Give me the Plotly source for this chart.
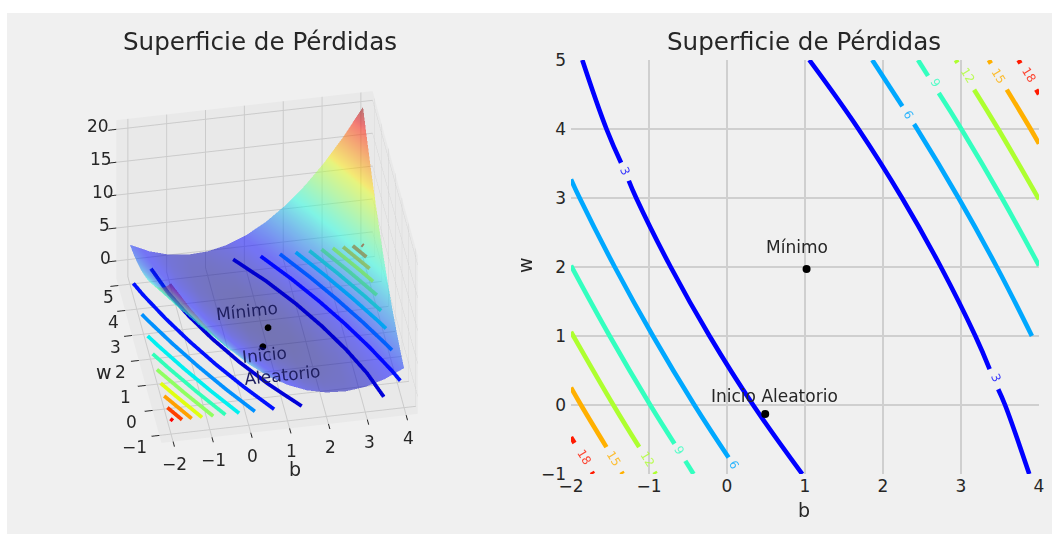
import plotly.graph_objects as go

TITLE = "Superficie de Pérdidas"
b_ticks = [-2, -1, 0, 1, 2, 3, 4]
w_ticks = [-1, 0, 1, 2, 3, 4, 5]
z_ticks = [0, 5, 10, 15, 20]

b_grid = [-2, -1.5, -1, -0.5, 0, 0.5, 1, 1.5, 2, 2.5, 3, 3.5, 4]
w_grid = [-1, -0.5, 0, 0.5, 1, 1.5, 2, 2.5, 3, 3.5, 4, 4.5, 5]
loss_grid = [
    [20.33, 16.17, 12.51, 9.35, 6.69, 4.53, 2.87, 1.71, 1.05, 0.89, 1.23, 2.07, 3.41],
    [18.04, 14.12, 10.69, 7.77, 5.34, 3.42, 1.99, 1.07, 0.64, 0.72, 1.29, 2.37, 3.94],
    [15.91, 12.22, 9.04, 6.35, 4.16, 2.47, 1.28, 0.59, 0.40, 0.71, 1.52, 2.83, 4.64],
    [13.95, 10.49, 7.54, 5.08, 3.13, 1.67, 0.72, 0.26, 0.31, 0.85, 1.90, 3.44, 5.49],
    [12.14, 8.92, 6.20, 3.98, 2.26, 1.04, 0.32, 0.10, 0.38, 1.16, 2.44, 4.22, 6.50],
    [10.49, 7.50, 5.02, 3.03, 1.55, 0.56, 0.08, 0.09, 0.61, 1.62, 3.14, 5.15, 7.67],
    [9.00, 6.25, 4.00, 2.25, 1.00, 0.25, 0.00, 0.25, 1.00, 2.25, 4.00, 6.25, 9.00],
    [7.67, 5.15, 3.14, 1.62, 0.61, 0.09, 0.08, 0.56, 1.55, 3.03, 5.02, 7.50, 10.49],
    [6.50, 4.22, 2.44, 1.16, 0.38, 0.10, 0.32, 1.04, 2.26, 3.98, 6.20, 8.92, 12.14],
    [5.49, 3.44, 1.90, 0.85, 0.31, 0.26, 0.72, 1.67, 3.13, 5.08, 7.54, 10.49, 13.95],
    [4.64, 2.83, 1.52, 0.71, 0.40, 0.59, 1.28, 2.47, 4.16, 6.35, 9.04, 12.22, 15.91],
    [3.94, 2.37, 1.29, 0.72, 0.64, 1.07, 1.99, 3.42, 5.34, 7.77, 10.69, 14.12, 18.04],
    [3.41, 2.07, 1.23, 0.89, 1.05, 1.71, 2.87, 4.53, 6.69, 9.35, 12.51, 16.17, 20.33],
]

# floor contours of the 3D panel: level -> (b, w) polylines, None separates branches
floor_levels = [2, 4, 6, 8, 10, 12, 14, 16, 18, 20]
floor_colors = ["#0000d8", "#0010ff", "#0090ff", "#00f0f0", "#30ffb8", "#90ff60",
                "#e0ff10", "#ffa000", "#ff4000", "#ff0000"]
floor_z = -0.6
floor_b = [
    [3.477, 3.218, 2.859, 2.424, 1.919, 1.338, 0.657, None, 1.363, 0.682, 0.101, -0.404, -0.839, -1.198, -1.457],
    [4.0, 3.849, 3.455, 3.01, 2.515, 1.969, 1.366, None, 0.654, 0.051, -0.495, -0.99, -1.435, -1.829, -2.0],
    [4.0, 3.909, 3.459, 2.969, 2.438, 1.862, None, 0.158, -0.418, -0.949, -1.439, -1.889, -2.0],
    [4.0, 3.838, 3.351, 2.828, 2.268, None, -0.248, -0.808, -1.331, -1.818, -2.0],
    [4.0, 3.687, 3.17, 2.62, None, -0.60, -1.15, -1.667, -2.0],
    [4.0, 3.477, 2.934, None, -0.914, -1.457, -1.97, -2.0],
    [4.0, 3.759, 3.222, None, -1.202, -1.739, -2.0],
    [4.0, 3.488, None, -1.468, -2.0],
    [4.0, 3.737, None, -1.717, -2.0],
    [4.0, 3.972, None, -1.952, -2.0],
]
floor_w = [
    [-1, 0, 1, 2, 3, 4, 5, None, -1, 0, 1, 2, 3, 4, 5],
    [-0.448, 0, 1, 2, 3, 4, 5, None, -1, 0, 1, 2, 3, 4, 4.507],
    [0.778, 1, 2, 3, 4, 5, None, -1, 0, 1, 2, 3, 3.271],
    [1.642, 2, 3, 4, 5, None, -1, 0, 1, 2, 2.402],
    [2.355, 3, 4, 5, None, -1, 0, 1, 1.687],
    [2.98, 4, 5, None, -1, 0, 1, 1.06],
    [3.527, 4, 5, None, -1, 0, 0.51],
    [4.04, 5, None, -1, 0],
    [4.503, 5, None, -1, -0.465],
    [4.947, 5, None, -1, -0.91],
]

# contours of the flat panel, broken where the labels sit
flat_levels = [3, 6, 9, 12, 15, 18]
flat_colors = ["#0000ff", "#00a8ff", "#33ffbf", "#adff2f", "#ffb000", "#ff1a00"]
flat_b = [
    [3.875, 3.565, 3.477, None, 3.367, 3.184, 2.742, 2.244, 1.685, 1.055, None,
     0.965, 0.335, -0.224, -0.722, -1.164, -1.259, None, -1.358, -1.545, -1.855],
    [3.909, 3.459, 2.969, 2.438, 2.398, None, 2.248, 1.862, None,
     0.02, -0.418, -0.949, -1.439, -1.889, -2.0],
    [4.0, 3.524, 3.004, 2.715, None, 2.577, 2.449, None,
     -0.429, -0.534, None, -0.673, -0.984, -1.504, -2.0],
    [4.0, 3.477, 3.168, None, 2.955, 2.934, None,
     -0.914, -0.93, None, -1.126, -1.457, -1.97, -2.0],
    [4.0, 3.892, 3.587, None, 3.384, 3.357, None,
     -1.337, -1.353, None, -1.546, -1.872, -2.0],
    [4.0, 3.964, None, 3.763, 3.737, None, -1.717, -1.733, None, -1.955, -2.0],
]
flat_w = [
    [-1, 0, 0.23, None, 0.52, 1, 2, 3, 4, 5, None,
     -1, 0, 1, 2, 3, 3.25, None, 3.51, 4, 5],
    [1, 2, 3, 4, 4.07, None, 4.33, 5, None,
     -0.76, 0, 1, 2, 3, 3.271],
    [2.02, 3, 4, 4.52, None, 4.77, 5, None,
     -1, -0.81, None, -0.56, 0, 1, 2.02],
    [2.98, 4, 4.57, None, 4.96, 5, None,
     -1, -0.97, None, -0.61, 0, 1, 1.06],
    [3.787, 4, 4.57, None, 4.95, 5, None,
     -1, -0.97, None, -0.61, 0, 0.252],
    [4.503, 4.57, None, 4.95, 5, None, -1, -0.97, None, -0.55, -0.465],
]
label_text = ["3", "3", "6", "6", "9", "9", "12", "12", "15", "15", "18", "18"]
label_level = [0, 0, 1, 1, 2, 2, 3, 3, 4, 4, 5, 5]
label_b = [-1.31, 3.45, 2.33, 0.09, 2.67, -0.61, 3.08, -1.02, 3.48, -1.45, 3.87, -1.83]
label_w = [3.39, 0.39, 4.21, -0.87, 4.66, -0.665, 4.78, -0.78, 4.77, -0.78, 4.78, -0.75]
label_angle = [66, 66, 60, 60, 60, 60, 58, 58, 58, 58, 58, 58]

minimum_b, minimum_w = 1.02, 1.97
start_b, start_w = 0.49, -0.13
point3d_b = [1.02, 0.75]
point3d_w = [1.97, 1.2]
point3d_z = [0.3, 0.5]

JET = [[0, "#00007f"], [0.11, "#0000ff"], [0.125, "#0000ff"], [0.375, "#16ffe1"],
       [0.5, "#7dff7a"], [0.64, "#e4ff13"], [0.66, "#ffea00"], [0.89, "#ff1300"],
       [0.91, "#ed0000"], [1, "#7f0000"]]
INK = "#262626"
FONT = "DejaVu Sans"

fig = go.Figure()
fig.add_trace(go.Surface(x=b_grid, y=w_grid, z=loss_grid, colorscale=JET, cmin=0, cmax=20.5,
                         opacity=0.5, showscale=False, scene="scene",
                         lighting=dict(ambient=1, diffuse=0, specular=0, fresnel=0, roughness=1)))
for i, lvl in enumerate(floor_levels):
    fig.add_trace(go.Scatter3d(x=floor_b[i], y=floor_w[i], z=[floor_z if v is not None else None for v in floor_b[i]],
                               mode="lines", line=dict(color=floor_colors[i], width=7.5),
                               showlegend=False, name=str(lvl), scene="scene"))
fig.add_trace(go.Scatter3d(x=point3d_b, y=point3d_w, z=point3d_z, mode="markers",
                           marker=dict(color="#000000", size=4), showlegend=False, scene="scene"))

for i, lvl in enumerate(flat_levels):
    fig.add_trace(go.Scatter(x=flat_b[i], y=flat_w[i], mode="lines", connectgaps=False,
                             line=dict(color=flat_colors[i], width=4.6, shape="spline", smoothing=1.2),
                             showlegend=False, name=str(lvl), xaxis="x", yaxis="y"))
fig.add_trace(go.Scatter(x=[minimum_b, start_b], y=[minimum_w, start_w], mode="markers",
                         marker=dict(color="#000000", size=8), showlegend=False, xaxis="x", yaxis="y"))

ann = [
    dict(text=TITLE, xref="paper", yref="paper", x=260/1052, y=1-42/534, showarrow=False,
         xanchor="center", yanchor="middle", font=dict(size=24.6, color=INK, family=FONT)),
    dict(text=TITLE, xref="paper", yref="paper", x=804.5/1052, y=1-42/534, showarrow=False,
         xanchor="center", yanchor="middle", font=dict(size=24.6, color=INK, family=FONT)),
    dict(text="b", xref="paper", yref="paper", x=804/1052, y=1-510/534, showarrow=False,
         xanchor="center", yanchor="middle", font=dict(size=19, color=INK, family=FONT)),
    dict(text="w", xref="paper", yref="paper", x=525/1052, y=1-265/534, showarrow=False, textangle=-90,
         xanchor="center", yanchor="middle", font=dict(size=19, color=INK, family=FONT)),
    dict(text="Mínimo", x=minimum_b - 0.12, y=minimum_w + 0.32, xref="x", yref="y", showarrow=False,
         xanchor="center", yanchor="middle", font=dict(size=17, color=INK, family=FONT)),
    dict(text="Inicio Aleatorio", x=start_b + 0.12, y=start_w + 0.26, xref="x", yref="y", showarrow=False,
         xanchor="center", yanchor="middle", font=dict(size=17, color=INK, family=FONT)),
]
for t, lv, bb, ww, ang in zip(label_text, label_level, label_b, label_w, label_angle):
    ann.append(dict(text=t, x=bb, y=ww, xref="x", yref="y", showarrow=False, textangle=ang, opacity=0.8,
                    xanchor="center", yanchor="middle",
                    font=dict(size=12, color=flat_colors[lv], family=FONT)))

z_shift = [-10.5, -11.5, -13.5, -15.5, -18.5]
w_shift = [-25, -21, -20, -18, -16, -12, -10]
scene_ann = []
for v in b_ticks:
    scene_ann.append(dict(x=v, y=-1.3, z=floor_z, text=str(v).replace("-", "−"), showarrow=False,
                          xshift=2, yshift=-36, font=dict(size=17, color=INK, family=FONT)))
for v, sh in zip(w_ticks, w_shift):
    scene_ann.append(dict(x=-2.3, y=v, z=floor_z, text=str(v).replace("-", "−"), showarrow=False,
                          xshift=sh, yshift=-25, font=dict(size=17, color=INK, family=FONT)))
for v, sh in zip(z_ticks, z_shift):
    scene_ann.append(dict(x=-2.3, y=5.3, z=v, text=str(v), showarrow=False,
                          xshift=sh, yshift=3, font=dict(size=17, color=INK, family=FONT)))
scene_ann += [
    dict(x=1.2, y=-1.3, z=floor_z, text="b", showarrow=False, xshift=-2, yshift=-55,
         font=dict(size=19, color=INK, family=FONT)),
    dict(x=-2.3, y=1.8, z=floor_z, text="w", showarrow=False, xshift=-36, yshift=-20,
         font=dict(size=19, color=INK, family=FONT)),
    dict(x=0.2, y=2.6, z=floor_z, text="Mínimo", showarrow=False, textangle=-6, xshift=15, yshift=10,
         font=dict(size=17, color="#1e1e60", family=FONT)),
    dict(x=0.9, y=0.2, z=floor_z, text="Inicio<br>Aleatorio", showarrow=False, textangle=-6, align="left",
         xshift=6, yshift=14, font=dict(size=17, color="#1e1e60", family=FONT)),
]

axis3d = dict(showbackground=True, backgroundcolor="#e9e9e9", gridcolor="#cbcbcb", gridwidth=2,
              showticklabels=False, ticks="outside", ticklen=8, tickcolor=INK, tickwidth=2,
              zeroline=False, showspikes=False, title=dict(text=""), showline=False)

d = 1.63
fig.update_layout(
    width=1052, height=534, margin=dict(l=0, r=0, t=0, b=0, autoexpand=False),
    paper_bgcolor="#ffffff", plot_bgcolor="#f0f0f0", showlegend=False,
    font=dict(family=FONT, color=INK),
    shapes=[dict(type="rect", xref="paper", yref="paper", x0=7/1052, x1=1, y0=0, y1=1-13/534,
                 fillcolor="#f0f0f0", line=dict(width=0), layer="below")],
    annotations=ann,
    xaxis=dict(domain=[571/1052, 1039/1052], range=[-2, 4], tickvals=b_ticks, showgrid=True, automargin=False,
               gridcolor="#cfcfcf", gridwidth=2, zeroline=False, showline=False, ticks="",
               tickfont=dict(size=17, color=INK)),
    yaxis=dict(domain=[1-474/534, 1-60/534], range=[-1, 5], tickvals=w_ticks, showgrid=True, automargin=False,
               gridcolor="#cfcfcf", gridwidth=2, zeroline=False, showline=False, ticks="", ticklabelstandoff=4,
               tickfont=dict(size=17, color=INK)),
    scene=dict(
        domain=dict(x=[0.0037, 0.5037], y=[0.0, 1.0]),
        xaxis=dict(range=[-2.3, 4.3], tickvals=b_ticks, **axis3d),
        yaxis=dict(range=[-1.3, 5.3], tickvals=w_ticks, **axis3d),
        zaxis=dict(range=[-2.6, 21.4], tickvals=z_ticks, **axis3d),
        aspectmode="manual", aspectratio=dict(x=0.975, y=0.975, z=0.772),
        camera=dict(eye=dict(x=-0.133*d, y=-0.754*d, z=0.643*d), up=dict(x=0, y=0, z=1),
                    center=dict(x=0, y=0, z=0), projection=dict(type="orthographic")),
        annotations=scene_ann,
    ),
)
fig.write_html("out.html", post_script="document.body.style.margin='0';",
               config=dict(displayModeBar=False))
